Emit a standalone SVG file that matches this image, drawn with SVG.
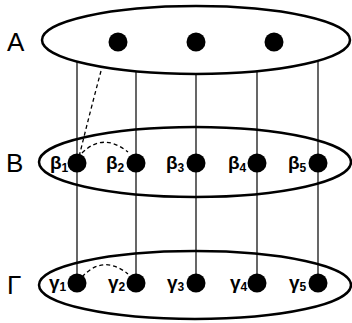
<svg xmlns="http://www.w3.org/2000/svg" width="352" height="323" viewBox="0 0 352 323">
<style>
.set{fill:none;stroke:#000;stroke-width:2.5}
.setA{fill:#fff;stroke:#000;stroke-width:2.5}
.dot{fill:#000}
.ln{stroke:#000;stroke-width:1.2;fill:none}
.dash{stroke:#000;stroke-width:1.3;fill:none;stroke-dasharray:4,3}
.big{font-family:"Liberation Sans",Arial,sans-serif;font-size:26px;fill:#000}
.lab{font-family:"Liberation Sans",Arial,sans-serif;font-size:19px;font-weight:bold;fill:#000}
.sub{font-size:12px}
</style>
<g id="connectors">
<line class="ln" x1="77" y1="45" x2="77" y2="283"/>
<line class="ln" x1="136" y1="45" x2="136" y2="283"/>
<line class="ln" x1="196" y1="45" x2="196" y2="283"/>
<line class="ln" x1="257" y1="45" x2="257" y2="283"/>
<line class="ln" x1="318" y1="45" x2="318" y2="283"/>
<path class="dash" d="M101,71 Q90,112 79,157"/>
<path class="dash" d="M82,153 Q103,132 128,152"/>
<path class="dash" d="M82,277 Q103,254 128,274"/>
</g>
<g id="A">
<ellipse class="setA" cx="196" cy="40" rx="154" ry="34"/>
<text class="big" x="7" y="51">A</text>
<circle class="dot" cx="118" cy="42" r="9.5"/>
<circle class="dot" cx="196" cy="42" r="9.5"/>
<circle class="dot" cx="274" cy="42" r="9.5"/>
</g>
<g id="B">
<ellipse class="set" cx="195" cy="162" rx="156" ry="35"/>
<text class="big" x="6" y="172">B</text>
<circle class="dot" cx="77" cy="163" r="9.5"/>
<circle class="dot" cx="136" cy="163" r="9.5"/>
<circle class="dot" cx="196" cy="163" r="9.5"/>
<circle class="dot" cx="257" cy="163" r="9.5"/>
<circle class="dot" cx="318" cy="163" r="9.5"/>
<text class="lab" x="50" y="169">β<tspan class="sub" dy="3">1</tspan></text>
<text class="lab" x="106" y="169">β<tspan class="sub" dy="3">2</tspan></text>
<text class="lab" x="166" y="169">β<tspan class="sub" dy="3">3</tspan></text>
<text class="lab" x="228" y="169">β<tspan class="sub" dy="3">4</tspan></text>
<text class="lab" x="288" y="169">β<tspan class="sub" dy="3">5</tspan></text>
</g>
<g id="Gamma">
<ellipse class="set" cx="195" cy="285" rx="156" ry="34"/>
<text class="big" x="7" y="294">Γ</text>
<circle class="dot" cx="77" cy="283" r="9.5"/>
<circle class="dot" cx="136" cy="283" r="9.5"/>
<circle class="dot" cx="196" cy="283" r="9.5"/>
<circle class="dot" cx="257" cy="283" r="9.5"/>
<circle class="dot" cx="318" cy="283" r="9.5"/>
<text class="lab" x="49" y="289">γ<tspan class="sub" dy="2">1</tspan></text>
<text class="lab" x="108" y="289">γ<tspan class="sub" dy="2">2</tspan></text>
<text class="lab" x="167" y="289">γ<tspan class="sub" dy="2">3</tspan></text>
<text class="lab" x="230" y="289">γ<tspan class="sub" dy="2">4</tspan></text>
<text class="lab" x="289" y="289">γ<tspan class="sub" dy="2">5</tspan></text>
</g>
</svg>
